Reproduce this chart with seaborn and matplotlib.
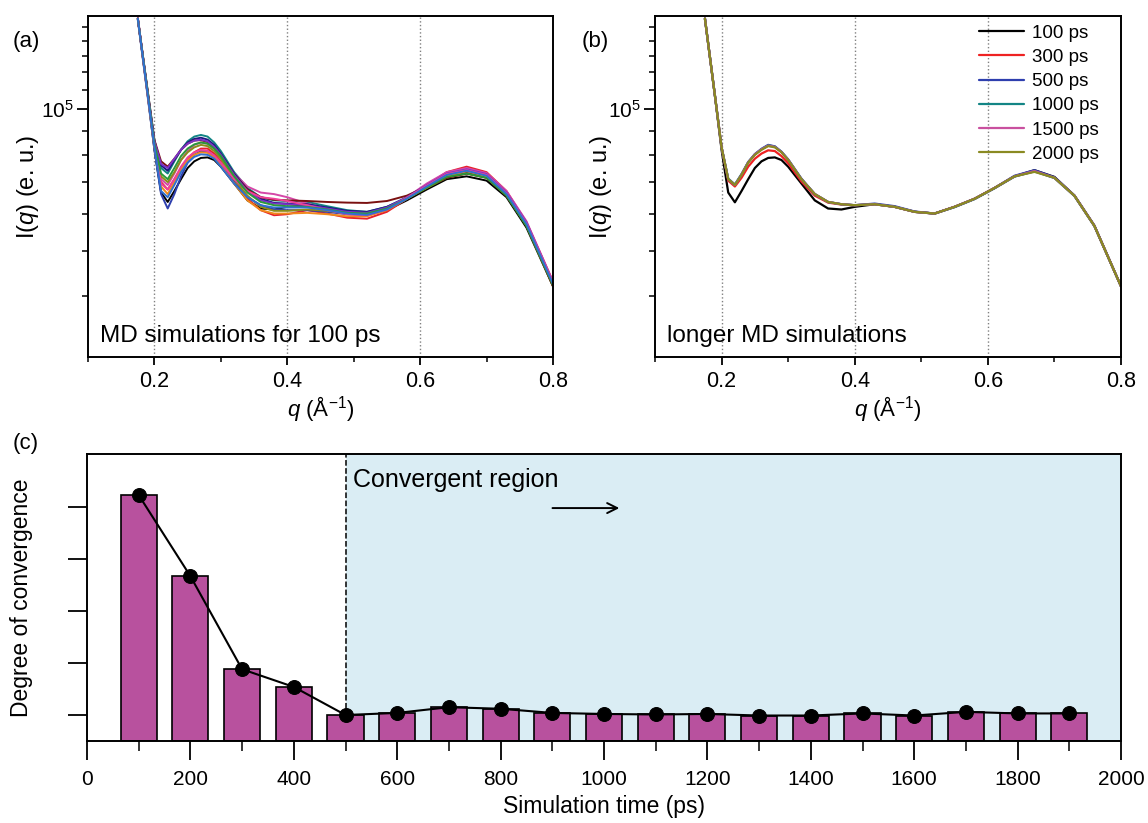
import numpy as np
import pandas as pd
import seaborn as sns
import matplotlib
matplotlib.use("Agg")
from matplotlib import pyplot as plt
from matplotlib import ticker

# q grid (1/A) shared by all scattering curves
q = [0.175, 0.19, 0.20, 0.21, 0.22, 0.23, 0.24, 0.25, 0.26, 0.27, 0.28, 0.29, 0.30,
     0.32, 0.34, 0.36, 0.38, 0.40, 0.43, 0.46, 0.49, 0.52, 0.55, 0.58, 0.61, 0.64,
     0.67, 0.70, 0.73, 0.76, 0.80]

# panel (a): 100 ps runs, I(q) in units of 1e4 e.u.
a_black = [15.6, 10.7, 8.2, 6.65, 6.35, 6.7, 7.1, 7.5, 7.75, 7.88, 7.9, 7.8, 7.55, 6.95, 6.4, 6.15, 6.12, 6.2, 6.25, 6.15, 6.0, 5.95, 6.1, 6.4, 6.75, 7.1, 7.2, 7.05, 6.5, 5.6, 4.2]
a_red = [15.6, 10.8, 8.4, 7.0, 6.75, 7.1, 7.5, 7.85, 8.1, 8.25, 8.25, 8.05, 7.75, 7.0, 6.45, 6.1, 5.95, 5.98, 6.1, 6.0, 5.88, 5.85, 6.05, 6.45, 6.9, 7.35, 7.55, 7.35, 6.7, 5.75, 4.3]
a_blue = [15.5, 10.6, 8.2, 6.6, 6.15, 6.6, 7.2, 7.7, 8.0, 8.15, 8.15, 7.95, 7.65, 7.0, 6.5, 6.25, 6.12, 6.1, 6.1, 6.05, 5.98, 5.95, 6.12, 6.45, 6.85, 7.25, 7.42, 7.25, 6.6, 5.7, 4.25]
a_teal = [15.6, 10.9, 8.6, 7.5, 7.3, 7.75, 8.2, 8.55, 8.75, 8.82, 8.75, 8.5, 8.15, 7.35, 6.8, 6.5, 6.4, 6.38, 6.35, 6.22, 6.1, 6.05, 6.2, 6.5, 6.9, 7.3, 7.45, 7.28, 6.65, 5.72, 4.25]
a_magenta = [15.7, 10.8, 8.45, 7.1, 6.9, 7.3, 7.8, 8.15, 8.4, 8.5, 8.45, 8.25, 7.95, 7.3, 6.85, 6.65, 6.6, 6.5, 6.3, 6.15, 6.0, 5.98, 6.15, 6.5, 6.95, 7.35, 7.5, 7.32, 6.7, 5.78, 4.3]
a_olive = [15.6, 10.7, 8.35, 7.2, 7.0, 7.35, 7.8, 8.1, 8.3, 8.4, 8.35, 8.15, 7.85, 7.1, 6.55, 6.2, 6.08, 6.08, 6.12, 6.08, 6.0, 5.98, 6.15, 6.45, 6.8, 7.15, 7.3, 7.15, 6.55, 5.65, 4.2]
a_navy = [15.6, 10.8, 8.55, 7.6, 7.4, 7.8, 8.2, 8.5, 8.65, 8.7, 8.62, 8.4, 8.05, 7.3, 6.75, 6.45, 6.32, 6.3, 6.28, 6.18, 6.08, 6.05, 6.2, 6.48, 6.85, 7.2, 7.35, 7.2, 6.6, 5.7, 4.22]
a_maroon = [15.6, 10.9, 8.6, 7.75, 7.55, 7.85, 8.2, 8.45, 8.58, 8.6, 8.52, 8.3, 7.98, 7.25, 6.75, 6.5, 6.42, 6.4, 6.38, 6.35, 6.33, 6.32, 6.38, 6.55, 6.85, 7.15, 7.3, 7.15, 6.55, 5.68, 4.2]
a_orange = [15.6, 10.7, 8.3, 6.85, 6.6, 7.0, 7.45, 7.8, 8.0, 8.1, 8.08, 7.9, 7.6, 6.95, 6.4, 6.1, 6.0, 6.0, 6.02, 5.98, 5.92, 5.92, 6.1, 6.45, 6.85, 7.2, 7.38, 7.2, 6.6, 5.7, 4.25]
a_violet = [15.6, 10.8, 8.55, 7.65, 7.5, 7.85, 8.2, 8.45, 8.58, 8.62, 8.55, 8.32, 8.0, 7.25, 6.7, 6.4, 6.3, 6.28, 6.25, 6.15, 6.05, 6.02, 6.18, 6.5, 6.9, 7.3, 7.45, 7.28, 6.65, 5.75, 4.28]
a_pink = [15.6, 10.7, 8.4, 6.95, 6.75, 7.1, 7.55, 7.9, 8.1, 8.2, 8.15, 7.98, 7.7, 7.1, 6.7, 6.5, 6.45, 6.38, 6.25, 6.1, 5.98, 5.95, 6.12, 6.48, 6.88, 7.28, 7.42, 7.25, 6.62, 5.72, 4.28]
a_green = [15.6, 10.8, 8.45, 7.3, 7.1, 7.5, 7.95, 8.25, 8.42, 8.5, 8.45, 8.25, 7.95, 7.2, 6.65, 6.35, 6.25, 6.22, 6.2, 6.12, 6.02, 6.0, 6.15, 6.45, 6.82, 7.18, 7.3, 7.15, 6.55, 5.65, 4.22]
a_royal = [15.6, 10.7, 8.3, 6.7, 6.5, 6.9, 7.35, 7.7, 7.92, 8.02, 8.0, 7.85, 7.55, 6.95, 6.5, 6.25, 6.18, 6.18, 6.18, 6.1, 6.0, 5.96, 6.12, 6.45, 6.85, 7.25, 7.4, 7.22, 6.6, 5.7, 4.25]

a_runs = [a_black, a_red, a_blue, a_teal, a_magenta, a_olive, a_navy, a_maroon,
          a_orange, a_violet, a_pink, a_green, a_royal]
a_colors = ['#000000', '#e8202a', '#2e3fae', '#138585', '#d548a8', '#8c8c1a', '#1a1a80',
            '#7a1010', '#f08a1c', '#7a32c8', '#f0409a', '#2a9a3a', '#3070d0']

# panel (b): longer simulations
b_labels = ['100 ps', '300 ps', '500 ps', '1000 ps', '1500 ps', '2000 ps']
b_100 = [15.6, 10.7, 8.2, 6.65, 6.34, 6.7, 7.1, 7.5, 7.75, 7.88, 7.9, 7.8, 7.55, 6.95, 6.4, 6.15, 6.12, 6.2, 6.28, 6.2, 6.05, 6.0, 6.2, 6.45, 6.8, 7.2, 7.42, 7.18, 6.55, 5.65, 4.2]
b_300 = [15.6, 10.7, 8.3, 7.05, 6.85, 7.15, 7.55, 7.85, 8.05, 8.18, 8.15, 7.95, 7.68, 7.02, 6.55, 6.33, 6.27, 6.25, 6.28, 6.2, 6.05, 6.0, 6.2, 6.45, 6.8, 7.2, 7.38, 7.15, 6.55, 5.65, 4.2]
b_500 = [15.6, 10.7, 8.3, 7.1, 6.9, 7.27, 7.72, 8.03, 8.24, 8.4, 8.34, 8.12, 7.82, 7.12, 6.6, 6.35, 6.28, 6.25, 6.3, 6.22, 6.06, 6.0, 6.2, 6.45, 6.8, 7.22, 7.42, 7.17, 6.56, 5.66, 4.2]
b_1000 = [15.6, 10.7, 8.3, 7.12, 6.92, 7.28, 7.72, 8.02, 8.22, 8.38, 8.33, 8.12, 7.82, 7.1, 6.6, 6.35, 6.28, 6.25, 6.28, 6.2, 6.05, 6.0, 6.19, 6.44, 6.79, 7.19, 7.38, 7.14, 6.54, 5.64, 4.2]
b_1500 = [15.6, 10.7, 8.3, 7.1, 6.9, 7.26, 7.71, 8.02, 8.22, 8.37, 8.32, 8.11, 7.81, 7.1, 6.6, 6.35, 6.28, 6.25, 6.28, 6.2, 6.05, 6.0, 6.2, 6.45, 6.8, 7.2, 7.39, 7.15, 6.55, 5.65, 4.2]
b_2000 = [15.6, 10.7, 8.3, 7.1, 6.9, 7.25, 7.7, 8.0, 8.2, 8.35, 8.3, 8.1, 7.8, 7.1, 6.6, 6.35, 6.28, 6.25, 6.28, 6.2, 6.05, 6.0, 6.2, 6.45, 6.8, 7.2, 7.36, 7.15, 6.55, 5.65, 4.2]
b_runs = [b_100, b_300, b_500, b_1000, b_1500, b_2000]
b_colors = ['#000000', '#ee2222', '#2e3fae', '#138585', '#c9509f', '#8a8a22']

# panel (c): degree of convergence vs simulation time
sim_time = [100, 200, 300, 400, 500, 600, 700, 800, 900, 1000,
            1100, 1200, 1300, 1400, 1500, 1600, 1700, 1800, 1900]
convergence = [4.73, 3.17, 1.38, 1.04, 0.50, 0.54, 0.65, 0.62, 0.54, 0.52,
               0.51, 0.52, 0.49, 0.49, 0.53, 0.49, 0.56, 0.53, 0.53]

sns.set_theme(style='ticks')
plt.rcParams['font.family'] = ['Liberation Sans', 'DejaVu Sans']
plt.rcParams['mathtext.fontset'] = 'custom'
plt.rcParams['mathtext.rm'] = 'Liberation Sans'
plt.rcParams['mathtext.it'] = 'Liberation Sans:italic'
plt.rcParams['axes.linewidth'] = 1.4
plt.rcParams['axes.edgecolor'] = 'black'
for key in ('text.color', 'axes.labelcolor', 'xtick.color', 'ytick.color'):
    plt.rcParams[key] = 'black'

fig = plt.figure(figsize=(11.48, 8.23), dpi=100)
W, H = 1148, 823


def box(x0, y0, x1, y1):
    return [x0 / W, 1 - y1 / H, (x1 - x0) / W, (y1 - y0) / H]


ax_a = fig.add_axes(box(88, 16, 553, 357))
ax_b = fig.add_axes(box(655, 16, 1121, 357))
ax_c = fig.add_axes(box(87, 454, 1121, 741))

df_a = pd.concat([pd.DataFrame({'q': q, 'I': np.array(v) * 1e4, 'run': f'r{i}'})
                  for i, v in enumerate(a_runs)])
sns.lineplot(data=df_a, x='q', y='I', hue='run', palette=a_colors, estimator=None,
             sort=False, lw=1.4, legend=False, ax=ax_a)

df_b = pd.concat([pd.DataFrame({'q': q, 'I': np.array(v) * 1e4, 'time': lab})
                  for lab, v in zip(b_labels, b_runs)])
sns.lineplot(data=df_b, x='q', y='I', hue='time', palette=b_colors, estimator=None,
             sort=False, lw=1.6, ax=ax_b)
ax_b.legend(loc='upper left', bbox_to_anchor=(0.695, 0.975), frameon=False, fontsize=13.5,
            handlelength=2.4, handletextpad=0.45, labelspacing=0.38, borderpad=0,
            borderaxespad=0)

for ax, lab, ylx in [(ax_a, 'MD simulations for 100 ps', -0.102),
                     (ax_b, 'longer MD simulations', -0.088)]:
    ax.set_yscale('log')
    ax.set_xlim(0.1, 0.8)
    ax.set_ylim(2.97e4, 1.58e5)
    for xv in (0.2, 0.4, 0.6):
        ax.axvline(xv, color='#808080', ls=':', lw=1, zorder=0)
    ax.xaxis.set_major_locator(ticker.FixedLocator([0.2, 0.4, 0.6, 0.8]))
    ax.xaxis.set_major_formatter(ticker.FormatStrFormatter('%.1f'))
    ax.xaxis.set_minor_locator(ticker.MultipleLocator(0.1))
    ax.yaxis.set_major_locator(ticker.FixedLocator([1e5]))
    ax.yaxis.set_major_formatter(ticker.LogFormatterSciNotation())
    ax.yaxis.set_minor_locator(ticker.FixedLocator(
        [4e4, 5e4, 6e4, 7e4, 8e4, 9e4, 1.1e5, 1.2e5, 1.3e5, 1.4e5, 1.5e5]))
    ax.yaxis.set_minor_formatter(ticker.NullFormatter())
    ax.tick_params(axis='x', which='major', direction='out', length=6, width=1.3,
                   labelsize=15.5, pad=4)
    ax.tick_params(axis='x', which='minor', direction='out', length=3.5, width=1.1)
    ax.tick_params(axis='y', which='major', direction='out', length=8, width=1.3,
                   labelsize=15, pad=2)
    ax.tick_params(axis='y', which='minor', direction='out', length=4.5, width=1.1)
    ax.set_xlabel(r'$\mathit{q}$ (Å$^{-1}$)', fontsize=16, labelpad=2)
    ax.set_ylabel(r'I($\mathit{q}$) (e. u.)', fontsize=17)
    ax.yaxis.set_label_coords(ylx, 0.5)
    ax.text(0.026, 0.063, lab, transform=ax.transAxes, fontsize=17.5, va='center')
    for s in ax.spines.values():
        s.set_visible(True)

# panel (c)
df_c = pd.DataFrame({'time': sim_time, 'conv': convergence})
ax_c.axvspan(500, 2000, color='#daedf4', zorder=0, lw=0)
ax_c.axvline(500, color='black', ls='--', lw=1.1, zorder=1)
sns.barplot(data=df_c, x='time', y='conv', native_scale=True, width=0.7,
            color='#b8519e', saturation=1, edgecolor='black', linewidth=1.2,
            errorbar=None, ax=ax_c, zorder=2)
sns.lineplot(data=df_c, x='time', y='conv', color='black', marker='o', markersize=10,
             markeredgecolor='black', lw=1.5, ax=ax_c, zorder=3)
ax_c.set_xlim(0, 2000)
ax_c.set_ylim(0, 5.52)
ax_c.xaxis.set_major_locator(ticker.MultipleLocator(200))
ax_c.xaxis.set_minor_locator(ticker.MultipleLocator(100))
ax_c.yaxis.set_major_locator(ticker.FixedLocator([0.5, 1.5, 2.5, 3.5, 4.5]))
ax_c.tick_params(axis='x', which='major', direction='out', length=14, width=1.3,
                 labelsize=15, pad=7)
ax_c.tick_params(axis='x', which='minor', direction='out', length=7, width=1.1)
ax_c.tick_params(axis='y', which='major', direction='out', length=14, width=1.3,
                 labelleft=False)
ax_c.set_xlabel('Simulation time (ps)', fontsize=16.5, labelpad=4)
ax_c.set_ylabel('Degree of convergence', fontsize=16.5)
ax_c.yaxis.set_label_coords(-0.052, 0.5)
for s in ax_c.spines.values():
    s.set_visible(True)
ax_c.text(515, 5.02, 'Convergent region', fontsize=18, va='center', ha='left')
ax_c.annotate('', xy=(1035, 4.48), xytext=(895, 4.48),
              arrowprops=dict(arrowstyle='->', color='black', lw=1.4,
                              mutation_scale=18))

fig.text(13 / W, 1 - 42 / H, '(a)', fontsize=16, va='center')
fig.text(582 / W, 1 - 42 / H, '(b)', fontsize=16, va='center')
fig.text(13 / W, 1 - 443 / H, '(c)', fontsize=16, va='center')

fig.savefig('out.png', dpi=100)
